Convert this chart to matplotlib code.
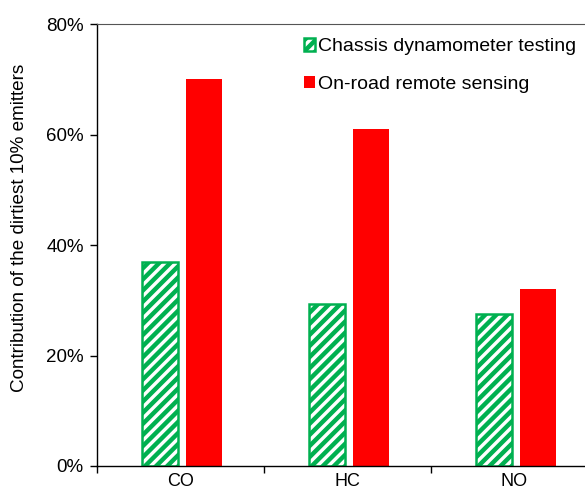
import matplotlib
matplotlib.use("Agg")
import matplotlib.pyplot as plt
import numpy as np
from matplotlib.ticker import FuncFormatter

plt.rcParams['font.family'] = ['Liberation Sans', 'DejaVu Sans']
plt.rcParams['hatch.linewidth'] = 3.2
plt.rcParams['hatch.color'] = '#00B050'

# data (fractions)
pollutants = ['CO', 'HC', 'NO']
chassis = [0.37, 0.293, 0.276]
remote = [0.70, 0.61, 0.32]
series_names = ['Chassis dynamometer testing', 'On-road remote sensing']

fig = plt.figure(figsize=(5.85, 4.96), dpi=100)
ax = fig.add_axes([0.1658, 0.0605, 0.8564, 0.891])

x = np.arange(len(pollutants))
w = 0.215
ax.bar(x - 0.12, chassis, w, facecolor='white', edgecolor='#00B050',
       hatch='///', linewidth=1.8, label=series_names[0])
ax.bar(x + 0.14, remote, w, color='#FF0000', label=series_names[1])

ax.set_xlim(-0.5, 2.5)
ax.set_ylim(0, 0.8)
ax.set_yticks([0, 0.2, 0.4, 0.6, 0.8])
ax.yaxis.set_major_formatter(FuncFormatter(lambda v, p: '%d%%' % round(v * 100)))
ax.set_xticks(x)
ax.set_xticklabels(pollutants)
ax.set_xticks([-0.5, 0.5, 1.5, 2.5], minor=True)
ax.tick_params(axis='x', which='major', length=0, labelsize=13, pad=5)
ax.tick_params(axis='x', which='minor', length=5, direction='out', width=1)
ax.tick_params(axis='y', length=5, direction='out', width=1, labelsize=13.5, pad=4.5)

ax.spines['right'].set_visible(False)
ax.spines['top'].set_color('#555555')
ax.spines['left'].set_linewidth(1)
ax.spines['bottom'].set_linewidth(1)

ax.set_ylabel('Contribution of the dirtiest 10% emitters', fontsize=13.6)
ax.yaxis.set_label_coords(-0.137, 0.538)

leg = ax.legend(loc='upper left', bbox_to_anchor=(0.397, 0.985), frameon=False,
                fontsize=14, handlelength=0.6, handleheight=0.6,
                handletextpad=0.15, labelspacing=1.05, borderaxespad=0)

fig.savefig('out.png', dpi=100)
